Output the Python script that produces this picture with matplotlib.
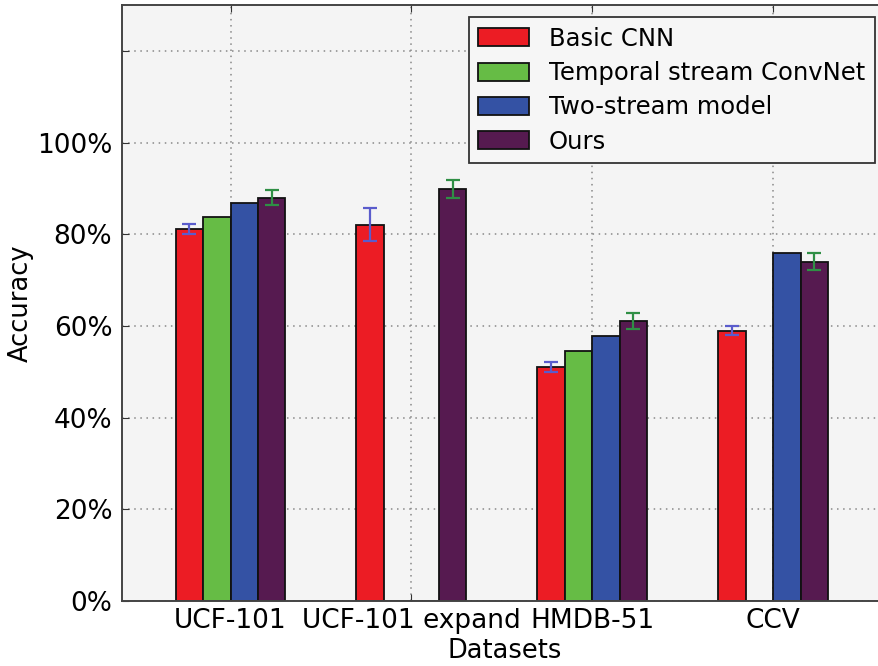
import numpy as np
import matplotlib
matplotlib.use("Agg")
import matplotlib.pyplot as plt

datasets = ["UCF-101", "UCF-101 expand", "HMDB-51", "CCV"]
methods = ["Basic CNN", "Temporal stream ConvNet", "Two-stream model", "Ours"]

# accuracy per method (NaN = not reported)
basic_cnn = [0.811, 0.821, 0.510, 0.590]
temporal_convnet = [0.837, np.nan, 0.545, np.nan]
two_stream = [0.869, np.nan, 0.578, 0.758]
ours = [0.880, 0.898, 0.611, 0.740]

basic_cnn_err = [0.011, 0.036, 0.011, 0.009]
ours_err = [0.016, 0.020, 0.017, 0.019]

ytick_vals = [0.0, 0.2, 0.4, 0.6, 0.8, 1.0, 1.2]
ytick_labels = ["0%", "20%", "40%", "60%", "80%", "100%", ""]

colors = ["#ec1c24", "#66bc45", "#3452a4", "#561a50"]
err_colors = {0: "#5a5ccc", 3: "#2f8f45"}

fig = plt.figure(figsize=(8.79, 6.66), dpi=100)
ax = fig.add_axes([122 / 879, 65 / 666, (887 - 122) / 879, (601 - 5) / 666])
ax.set_facecolor("#f4f4f4")
ax.set_axisbelow(True)

x = np.arange(len(datasets))
width = 0.152
series = [basic_cnn, temporal_convnet, two_stream, ours]
errors = {0: basic_cnn_err, 3: ours_err}

for i, (vals, name) in enumerate(zip(series, methods)):
    offs = x + (i - 1.5) * width
    vals = np.array(vals, dtype=float)
    ax.bar(offs, np.nan_to_num(vals), width, color=colors[i],
           edgecolor="#111111", linewidth=1.3, label=name, zorder=2)
    if i in errors:
        ax.errorbar(offs, vals, yerr=errors[i], fmt="none",
                    ecolor=err_colors[i], elinewidth=1.6, capsize=5,
                    capthick=1.6, zorder=3)

ax.set_xlim(-0.6, 3.63)
ax.set_ylim(0, 1.3)
ax.set_xticks(x)
ax.set_xticklabels(datasets, fontsize=19)
ax.set_yticks(ytick_vals)
ax.set_yticklabels(ytick_labels, fontsize=19)
ax.tick_params(direction="in", top=True, right=True, length=5,
               color="#333333")
ax.tick_params(axis="x", pad=5)
ax.tick_params(axis="y", pad=7)

ax.grid(True, linestyle=(0, (1, 3)), color="#888888", linewidth=1.1)
for s in ax.spines.values():
    s.set_color("#444444")
    s.set_linewidth(1.4)

ax.set_xlabel("Datasets", fontsize=18.5, labelpad=3)
ax.set_ylabel("Accuracy", fontsize=18.5, labelpad=2)

leg = ax.legend(loc="upper right", fontsize=17.5, fancybox=False,
                edgecolor="#333333", framealpha=1.0, facecolor="#f6f6f6",
                handlelength=2.1, handleheight=0.75, handletextpad=0.8,
                labelspacing=0.42, borderpad=0.4)
leg.get_frame().set_linewidth(1.3)

fig.savefig("out.png", dpi=100, facecolor="white")
